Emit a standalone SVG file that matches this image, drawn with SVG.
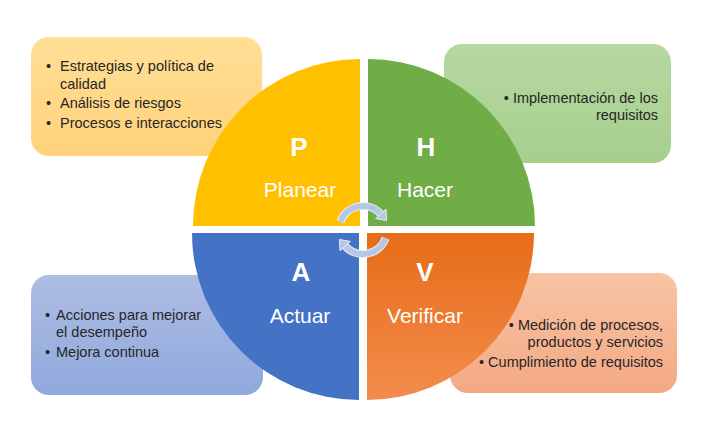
<svg xmlns="http://www.w3.org/2000/svg" width="713" height="427" viewBox="0 0 713 427">
<style>
.box-text{font-family:"Liberation Sans",Arial,sans-serif;font-size:14.5px;fill:#262626}
.letter{font-family:"Liberation Sans",Arial,sans-serif;font-size:26px;font-weight:bold;fill:#fff;text-anchor:middle}
.label{font-family:"Liberation Sans",Arial,sans-serif;font-size:21px;fill:#fff;text-anchor:middle}
.end{text-anchor:end}
.arrow-band{fill:none;stroke:#b4c7e7;stroke-width:6}
.arrow-edge{fill:none;stroke:#e9eef8;stroke-width:8}
.arrow-head{fill:#b4c7e7;stroke:#e9eef8;stroke-width:1}
</style>
<defs>
<linearGradient id="gY" x1="0" y1="0" x2="0" y2="1"><stop offset="0" stop-color="#ffdf96"/><stop offset="1" stop-color="#ffd27a"/></linearGradient>
<linearGradient id="gG" x1="0" y1="0" x2="0" y2="1"><stop offset="0" stop-color="#b6d8a2"/><stop offset="1" stop-color="#a6cf8c"/></linearGradient>
<linearGradient id="gB" x1="0" y1="0" x2="0" y2="1"><stop offset="0" stop-color="#aebde4"/><stop offset="1" stop-color="#8fa9dc"/></linearGradient>
<linearGradient id="gO" x1="0" y1="0" x2="0" y2="1"><stop offset="0" stop-color="#f8c4a4"/><stop offset="1" stop-color="#f4a984"/></linearGradient>
<linearGradient id="gV" x1="0" y1="0" x2="0" y2="1"><stop offset="0" stop-color="#e66c18"/><stop offset="1" stop-color="#f48c4c"/></linearGradient>
</defs>
<rect width="713" height="427" fill="#fff"/>
<g id="box-planear">
<rect x="31" y="37" width="231" height="119" rx="18" fill="url(#gY)"/>
<text class="box-text" x="46" y="71">•</text>
<text class="box-text" x="60" y="71">Estrategias y política de</text>
<text class="box-text" x="60" y="89">calidad</text>
<text class="box-text" x="46" y="108">•</text>
<text class="box-text" x="60" y="108">Análisis de riesgos</text>
<text class="box-text" x="46" y="128">•</text>
<text class="box-text" x="60" y="128">Procesos e interacciones</text>
</g>
<g id="box-hacer">
<rect x="444" y="44" width="227" height="119" rx="18" fill="url(#gG)"/>
<text class="box-text end" x="658" y="103">• Implementación de los</text>
<text class="box-text end" x="658" y="120">requisitos</text>
</g>
<g id="box-actuar">
<rect x="31" y="275" width="232" height="120" rx="18" fill="url(#gB)"/>
<text class="box-text" x="45" y="320">•</text>
<text class="box-text" x="56" y="320">Acciones para mejorar</text>
<text class="box-text" x="56" y="337">el desempeño</text>
<text class="box-text" x="45" y="357">•</text>
<text class="box-text" x="56" y="357">Mejora continua</text>
</g>
<g id="box-verificar">
<rect x="450" y="273" width="227" height="120" rx="18" fill="url(#gO)"/>
<text class="box-text end" x="663" y="330">• Medición de procesos,</text>
<text class="box-text end" x="663" y="347">productos y servicios</text>
<text class="box-text end" x="663" y="367">• Cumplimiento de requisitos</text>
</g>
<g id="quad-p">
<path d="M360,226 L193,226 A167,167 0 0 1 360,59 Z" fill="#ffc000"/>
<text class="letter" x="299" y="156">P</text>
<text class="label" x="300" y="197">Planear</text>
</g>
<g id="quad-h">
<path d="M368,226 L368,59 A167,167 0 0 1 535,226 Z" fill="#70ad47"/>
<text class="letter" x="426" y="156">H</text>
<text class="label" x="425" y="197">Hacer</text>
</g>
<g id="quad-a">
<path d="M359,233 L192,233 A167,167 0 0 0 359,400 Z" fill="#4472c4"/>
<text class="letter" x="301" y="281">A</text>
<text class="label" x="300" y="323">Actuar</text>
</g>
<g id="quad-v">
<path d="M367,233 L534,233 A167,167 0 0 1 367,400 Z" fill="url(#gV)"/>
<text class="letter" x="425" y="281">V</text>
<text class="label" x="425" y="323">Verificar</text>
</g>
<g id="connectors">
<path class="arrow-edge" d="M340.4,221.8 A24,24 0 0 1 381.4,214.6"/>
<path class="arrow-band" d="M340.4,221.8 A24,24 0 0 1 381.4,214.6"/>
<polygon class="arrow-head" points="375.6,218.6 386.0,209.3 386.5,220.5"/>
<path class="arrow-edge" d="M385.6,238.2 A24,24 0 0 1 344.6,245.4"/>
<path class="arrow-band" d="M385.6,238.2 A24,24 0 0 1 344.6,245.4"/>
<polygon class="arrow-head" points="350.4,241.4 340.0,250.7 339.5,239.5"/>
</g>
</svg>
